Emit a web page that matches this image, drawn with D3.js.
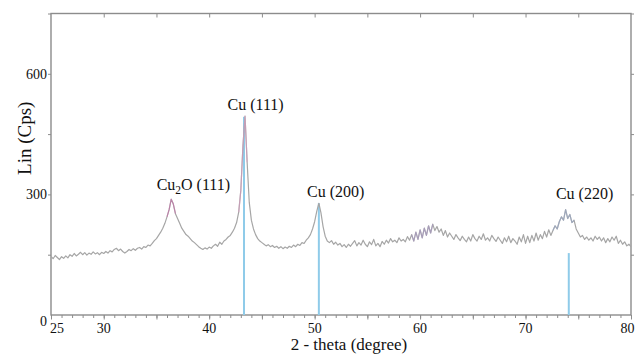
<!DOCTYPE html>
<html>
<head>
<meta charset="utf-8">
<script src="https://cdn.jsdelivr.net/npm/d3@7/dist/d3.min.js"></script>
<style>
  html, body { margin: 0; padding: 0; background: #fff; }
  svg { display: block; }
  text { font-family: "Liberation Serif", "Times New Roman", serif; fill: #111; }
</style>
</head>
<body>
<svg id="chart" width="635" height="354"></svg>
<script>
// ---- data ----
const thetaStart = 25;      // 2-theta of first sample
const thetaStep = 0.2;      // sampling step (degree)
// intensity (Cps), 5 samples per degree, rows start at 25, 26, ... 79, last = 80
const intensity = [
  146,140,148,143,138,
  145,141,147,142,150,
  146,153,147,151,156,
  150,155,149,154,151,
  157,152,155,150,156,
  153,158,154,160,157,
  163,166,160,164,158,
  154,158,163,160,165,
  161,166,168,164,170,
  168,174,172,178,185,
  190,198,206,216,228,
  244,262,288,276,252,
  240,228,216,208,200,
  196,190,184,180,175,
  170,166,163,167,164,
  169,166,172,176,171,
  181,176,184,188,194,
  198,206,216,230,256,
  310,420,495,380,280,
  236,214,200,190,184,
  180,176,172,175,170,
  173,168,171,166,170,
  165,169,166,171,168,
  174,170,176,173,180,
  178,186,192,200,214,
  232,258,278,254,220,
  196,184,180,185,176,
  181,174,178,170,175,
  168,176,171,178,185,
  172,180,174,186,176,
  170,182,175,188,172,
  178,170,183,176,186,
  179,190,182,186,180,
  192,184,188,182,195,
  186,200,184,206,188,
  212,192,216,198,222,
  204,226,210,220,206,
  214,198,210,194,204,
  196,188,200,192,185,
  196,188,182,194,184,
  200,190,184,196,188,
  202,186,192,184,198,
  190,183,194,186,178,
  192,182,196,180,190,
  184,176,194,182,200,
  178,196,180,198,184,
  204,186,200,190,208,
  194,212,198,210,222,
  214,232,244,236,262,
  240,250,230,236,214,
  204,194,198,188,194,
  186,192,184,196,188,
  194,184,192,180,190,
  182,194,186,196,178,
  186,176,182,172,176,
  170
];
// reference (stick) lines
const refTheta = [43.3, 50.4, 74.1];
const refIntensity = [493, 278, 154];
// peak labels (position of label centre)
const peakTheta = [38.5, 44.4, 52.0, 75.6];
const peakLabelY = [311, 510, 294, 289];
const peakNames = [["Cu", "2", "O (111)"], ["Cu (111)", "", ""], ["Cu (200)", "", ""], ["Cu (220)", "", ""]];
// tinted stretches of the trace
const tintFrom = [36.0, 42.8, 59.2, 72.6];
const tintTo   = [36.8, 43.6, 61.2, 74.6];
const tintColor = ["#c86aa8", "#d99ac0", "#a898c4", "#98a8c8"];
// axes
const xDomain = [25, 80];
const yDomain = [0, 750];
const xTickLabels = [25, 30, 40, 50, 60, 70, 80];
const yTickLabels = [0, 300, 600];
const xTitle = "2 - theta (degree)";
const yTitle = "Lin (Cps)";

// ---- layout ----
const L = 51, R = 631, T = 13.5, B = 315;
const svg = d3.select("#chart");
const x = d3.scaleLinear().domain(xDomain).range([L, R]);
const y = d3.scaleLinear().domain(yDomain).range([B, T]);

const pts = intensity.map((v, i) => ({ t: thetaStart + i * thetaStep, v }));

// frame
svg.append("rect").attr("x", L).attr("y", T).attr("width", R - L).attr("height", B - T)
  .attr("fill", "none").attr("stroke", "#8c8c8c").attr("stroke-width", 1.4);

// axes ticks
const axStyle = g => { g.select(".domain").remove(); g.selectAll("line").attr("stroke", "#8c8c8c").attr("stroke-width", 1); g.selectAll("text").remove(); };
svg.append("g").attr("transform", `translate(0,${B})`)
  .call(d3.axisBottom(x).tickValues(d3.range(25, 80.5, 1)).tickSize(3)).call(axStyle);
svg.append("g").attr("transform", `translate(0,${B})`)
  .call(d3.axisBottom(x).tickValues(d3.range(25, 80.5, 5)).tickSize(4.5)).call(axStyle);
svg.append("g").attr("transform", `translate(0,${T})`)
  .call(d3.axisBottom(x).tickValues(d3.range(30, 80, 5)).tickSize(4)).call(axStyle);
svg.append("g").attr("transform", `translate(${L},0)`)
  .call(d3.axisLeft(y).tickValues(d3.range(150, 751, 150)).tickSize(3)).call(axStyle);
svg.append("g").attr("transform", `translate(${R},0)`)
  .call(d3.axisRight(y).tickValues(d3.range(150, 751, 150)).tickSize(3)).call(axStyle);

// tick labels
const first = xDomain[0], last = xDomain[1];
svg.append("g").selectAll("text").data(xTickLabels).join("text")
  .attr("x", d => d === first ? x(d) - 1 : d === last ? x(d) + 3.5 : x(d))
  .attr("y", 333)
  .attr("text-anchor", d => d === first ? "start" : d === last ? "end" : "middle")
  .attr("font-size", 14)
  .text(d => d);
svg.append("g").selectAll("text").data(yTickLabels).join("text")
  .attr("x", L - 4)
  .attr("y", d => d === 0 ? y(d) + 11 : y(d) + 5)
  .attr("text-anchor", "end")
  .attr("font-size", 14)
  .text(d => d);

// titles
svg.append("text").attr("x", (L + R) / 2 + 8).attr("y", 349.5).attr("text-anchor", "middle")
  .attr("font-size", 17).text(xTitle);
svg.append("text").attr("transform", `translate(31,${(T + B) / 2 - 26}) rotate(-90)`)
  .attr("text-anchor", "middle").attr("font-size", 19).text(yTitle);

// clip
svg.append("clipPath").attr("id", "clip").append("rect")
  .attr("x", L).attr("y", T).attr("width", R - L).attr("height", B - T);

// reference sticks
svg.append("g").selectAll("line").data(refTheta).join("line")
  .attr("x1", d => x(d)).attr("x2", d => x(d))
  .attr("y1", y(0)).attr("y2", (d, i) => y(refIntensity[i]))
  .attr("stroke", "#8fcbe9").attr("stroke-width", 2);

// trace
const line = d3.line().x(d => x(d.t)).y(d => y(d.v));
const plot = svg.append("g").attr("clip-path", "url(#clip)");
plot.append("path").datum(pts).attr("d", line)
  .attr("fill", "none").attr("stroke", "#a6a6a6").attr("stroke-width", 1.2)
  .attr("stroke-linejoin", "round");
tintFrom.forEach((a, k) => {
  const seg = pts.filter(p => p.t >= a - 1e-9 && p.t <= tintTo[k] + 1e-9);
  plot.append("path").datum(seg).attr("d", line)
    .attr("fill", "none").attr("stroke", tintColor[k]).attr("stroke-width", 1.2)
    .attr("stroke-opacity", 0.6).attr("stroke-linejoin", "round");
});

// peak labels
const lab = svg.append("g");
peakNames.forEach((parts, i) => {
  const t = lab.append("text").attr("x", x(peakTheta[i])).attr("y", y(peakLabelY[i]))
    .attr("text-anchor", "middle").attr("font-size", 16);
  t.append("tspan").text(parts[0]);
  if (parts[1]) {
    t.append("tspan").attr("font-size", 11.5).attr("dy", 4).text(parts[1]);
    t.append("tspan").attr("dy", -4).text(parts[2]);
  }
});
</script>
</body>
</html>
